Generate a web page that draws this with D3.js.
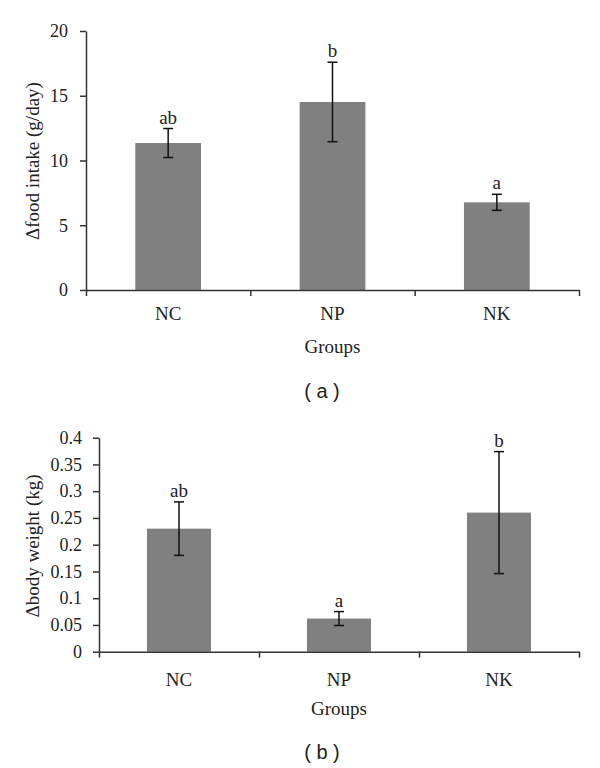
<!DOCTYPE html>
<html><head><meta charset="utf-8">
<script src="https://cdn.jsdelivr.net/npm/d3@7/dist/d3.min.js"></script>
<style>
body{margin:0;background:#fff;}
svg text{fill:#222;}
</style></head>
<body>
<svg id="chart" width="600" height="768"></svg>
<script>
const groups = ["NC", "NP", "NK"];
// Panel (a): Δfood intake (g/day)
const foodMean = [11.35, 14.52, 6.77];
const foodErr = [1.12, 3.07, 0.62];
const foodLetters = ["ab", "b", "a"];
const foodTicks = [0, 5, 10, 15, 20];
// Panel (b): Δbody weight (kg)
const weightMean = [0.23, 0.062, 0.26];
const weightErr = [0.05, 0.013, 0.114];
const weightLetters = ["ab", "a", "b"];
const weightTicks = [0, 0.05, 0.1, 0.15, 0.2, 0.25, 0.3, 0.35, 0.4];

const SERIF = '"Liberation Serif","DejaVu Serif",serif';
const SANS = '"Liberation Sans",Arial,sans-serif';
const svg = d3.select("#chart");

function panel(cfg) {
  const g = svg.append("g").style("font-family", SERIF);
  const x = d3.scaleBand().domain(groups).range([cfg.left, cfg.right]).paddingInner(0.6).paddingOuter(0.3);
  const y = d3.scaleLinear().domain([0, cfg.max]).range([cfg.bottom, cfg.top]);
  const xb = d3.scaleLinear().domain([0, groups.length]).range([cfg.left, cfg.right]);

  g.selectAll("rect.bar").data(groups).join("rect")
    .attr("x", d => x(d)).attr("width", x.bandwidth())
    .attr("y", (d, i) => y(cfg.mean[i]))
    .attr("height", (d, i) => y(0) - y(cfg.mean[i]))
    .attr("fill", "#808080");

  const cx = d => x(d) + x.bandwidth() / 2;
  const eb = g.selectAll("g.err").data(groups).join("g").attr("stroke", "#111").attr("stroke-width", 1.5);
  eb.append("line").attr("x1", cx).attr("x2", cx)
    .attr("y1", (d, i) => y(cfg.mean[i] + cfg.err[i]))
    .attr("y2", (d, i) => y(cfg.mean[i] - cfg.err[i]));
  eb.append("line").attr("x1", d => cx(d) - 5).attr("x2", d => cx(d) + 5)
    .attr("y1", (d, i) => y(cfg.mean[i] + cfg.err[i])).attr("y2", (d, i) => y(cfg.mean[i] + cfg.err[i]));
  eb.append("line").attr("x1", d => cx(d) - 5).attr("x2", d => cx(d) + 5)
    .attr("y1", (d, i) => y(cfg.mean[i] - cfg.err[i])).attr("y2", (d, i) => y(cfg.mean[i] - cfg.err[i]));

  g.selectAll("text.let").data(groups).join("text")
    .attr("x", cx).attr("y", (d, i) => y(cfg.mean[i] + cfg.err[i]) - 5)
    .attr("text-anchor", "middle").style("font-size", "19px")
    .text((d, i) => cfg.letters[i]);

  const ya = g.append("g").attr("transform", `translate(${cfg.left},0)`)
    .call(d3.axisLeft(y).tickValues(cfg.ticks).tickSize(6).tickSizeOuter(0).tickPadding(cfg.pad).tickFormat(d => String(d)));
  ya.selectAll("text").style("font-size", cfg.tickFont + "px").style("font-family", SERIF).attr("fill", "#222");
  ya.selectAll("line,path").attr("stroke", "#333").attr("stroke-width", 1.5);

  const xa = g.append("g").attr("transform", `translate(0,${cfg.bottom})`)
    .call(d3.axisBottom(xb).tickValues(d3.range(groups.length + 1)).tickSize(6).tickSizeOuter(0).tickFormat(""));
  xa.selectAll("line,path").attr("stroke", "#333").attr("stroke-width", 1.5);

  g.selectAll("text.cat").data(groups).join("text")
    .attr("x", cx).attr("y", cfg.catY).attr("text-anchor", "middle").style("font-size", "19px").text(d => d);

  g.append("text").attr("x", (cfg.left + cfg.right) / 2).attr("y", cfg.groupsY)
    .attr("text-anchor", "middle").style("font-size", "19px").text("Groups");

  g.append("text").attr("transform", `translate(${cfg.ylabX},${cfg.ylabY}) rotate(-90)`)
    .attr("text-anchor", "middle").style("font-size", "19px").text(cfg.ylabel);

  g.append("text").attr("x", 322).attr("y", cfg.capY).attr("text-anchor", "middle")
    .style("font-size", "20px").style("font-family", SANS).attr("fill", "#111")
    .style("white-space", "pre").text(cfg.caption);
}

panel({left: 86, right: 579, top: 31, bottom: 290, max: 20, mean: foodMean, err: foodErr,
  letters: foodLetters, ticks: foodTicks, pad: 12, tickFont: 18, catY: 320, groupsY: 353,
  ylabX: 39, ylabY: 161, ylabel: "Δfood intake (g/day)", capY: 398, caption: "( a )"});

panel({left: 99, right: 579, top: 437.7, bottom: 651.7, max: 0.4, mean: weightMean, err: weightErr,
  letters: weightLetters, ticks: weightTicks, pad: 11, tickFont: 18, catY: 686, groupsY: 715,
  ylabX: 39, ylabY: 546, ylabel: "Δbody weight (kg)", capY: 759, caption: "( b )"});
</script>
</body></html>
